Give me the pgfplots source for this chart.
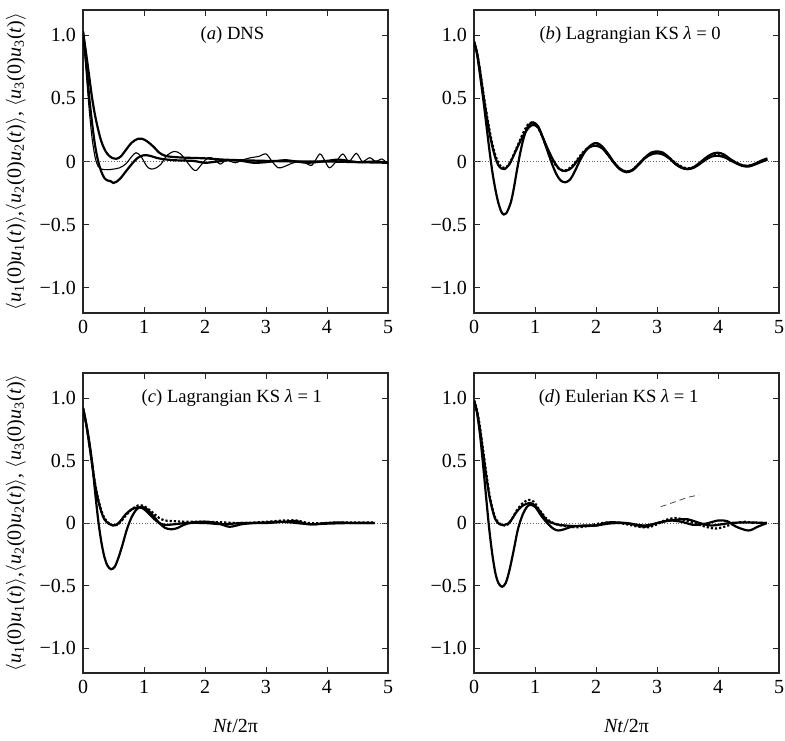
\documentclass[border=0pt]{standalone}
\usepackage{fontspec}
\setmainfont{Liberation Serif}
\usepackage{pgfplots}
\pgfplotsset{compat=1.18}
\pgfplotsset{
 panel/.style={
   scale only axis, width=152.5pt, height=151.5pt,
   xmin=0,xmax=5,ymin=-1.2,ymax=1.2,
   xtick={0,1,2,3,4,5}, xticklabels={0,1,2,3,4,5},
   ytick={-1,-0.5,0,0.5,1}, yticklabels={−1.0,−0.5,0,0.5,1.0},
   tick align=inside, major tick length=3pt,
   axis line style={line width=0.6pt,black!85},
   every tick/.style={black!85, line width=0.5pt},
   tick label style={font=\fontsize{10}{12}\selectfont},
   label style={font=\fontsize{10}{12}\selectfont},
   xlabel style={yshift=-6pt},
   anchor=south west,
 },
 cthick/.style={black, line width=1.1pt, smooth},
 cdot/.style={black, line width=1.1pt, smooth, densely dotted},
 cthin/.style={black, line width=0.55pt, smooth},
 zero/.style={black!60, densely dotted, line width=0.4pt},
}
\tikzset{plab/.style={font=\fontsize{9.3}{11}\selectfont}}
\newcommand{\ylab}{$\langle$\textit{u}\textsubscript{1}(0)\textit{u}\textsubscript{1}(\textit{t})$\rangle$,$\langle$\textit{u}\textsubscript{2}(0)\textit{u}\textsubscript{2}(\textit{t})$\rangle$, $\langle$\textit{u}\textsubscript{3}(0)\textit{u}\textsubscript{3}(\textit{t})$\rangle$}
\begin{document}
\begin{tikzpicture}
\path[use as bounding box] (0,0) rectangle (392.5pt,-370pt);
% (a)
\begin{axis}[panel, at={(41.5pt,-156.5pt)}, ylabel={\ylab}]
\addplot[zero] coordinates {(0,0) (5,0)};
\addplot[cthick] coordinates {(0,1.03) (0.05,0.86) (0.1,0.68) (0.15,0.5) (0.2,0.36) (0.25,0.25) (0.3,0.16) (0.35,0.1) (0.4,0.06) (0.47,0.03) (0.55,0.022) (0.62,0.04) (0.7,0.09) (0.8,0.15) (0.9,0.18) (0.97,0.18) (1.05,0.16) (1.15,0.12) (1.25,0.07) (1.35,0.045) (1.5,0.035) (1.7,0.03) (2.0,0.025) (2.3,0.015) (2.6,0.01) (3.0,0.005) (3.5,0.0) (4.0,0.0) (4.5,-0.005) (5,-0.01)};
\addplot[cthick] coordinates {(0,1.03) (0.05,0.8) (0.1,0.52) (0.15,0.3) (0.2,0.12) (0.25,0.0) (0.3,-0.08) (0.35,-0.13) (0.4,-0.15) (0.45,-0.155) (0.5,-0.17) (0.55,-0.16) (0.62,-0.13) (0.7,-0.08) (0.8,-0.02) (0.9,0.03) (1.0,0.05) (1.1,0.045) (1.2,0.03) (1.3,0.02) (1.5,0.01) (1.8,0.005) (2.0,-0.01) (2.2,0.0) (2.4,0.01) (2.6,0.005) (2.8,-0.01) (3.0,-0.005) (3.3,0.01) (3.5,0.0) (3.7,-0.01) (4.0,0.005) (4.2,0.015) (4.5,-0.005) (4.8,0.0) (5,-0.01)};
\addplot[cthin] coordinates {(0,1.0) (0.05,0.72) (0.1,0.42) (0.15,0.18) (0.2,0.03) (0.25,-0.04) (0.3,-0.06) (0.4,-0.065) (0.5,-0.06) (0.6,-0.05) (0.7,-0.02) (0.8,0.04) (0.87,0.07) (0.95,0.04) (1.05,-0.04) (1.12,-0.06) (1.2,-0.05) (1.28,-0.02) (1.38,0.05) (1.5,0.08) (1.6,0.06) (1.7,0.0) (1.8,-0.06) (1.86,-0.07) (1.95,-0.02) (2.05,0.03) (2.15,0.02) (2.25,-0.02) (2.35,0.01) (2.5,-0.01) (2.6,0.01) (2.75,0.03) (2.88,0.04) (3.0,0.06) (3.1,0.0) (3.2,-0.05) (3.3,-0.04) (3.45,-0.01) (3.6,0.0) (3.75,-0.03) (3.88,0.06) (3.96,0.01) (4.04,-0.05) (4.15,0.0) (4.26,0.06) (4.36,0.0) (4.48,0.065) (4.58,0.0) (4.7,0.03) (4.8,0.0) (4.9,0.02) (5,-0.02)};
\node[plab] at (axis cs:2.45,1.0) {(\textit{a}) DNS};
\end{axis}
% (b)
\begin{axis}[panel, at={(237pt,-156.5pt)}]
\addplot[zero] coordinates {(0,0) (5,0)};
\addplot[cthick] coordinates {(0,0.95) (0.05,0.85) (0.1,0.68) (0.15,0.5) (0.2,0.3) (0.25,0.1) (0.3,-0.08) (0.35,-0.22) (0.4,-0.33) (0.45,-0.4) (0.49,-0.42) (0.53,-0.41) (0.6,-0.33) (0.65,-0.22) (0.7,-0.08) (0.75,0.05) (0.8,0.16) (0.85,0.24) (0.9,0.29) (0.97,0.31) (1.05,0.28) (1.12,0.2) (1.2,0.09) (1.28,-0.02) (1.35,-0.1) (1.42,-0.15) (1.5,-0.165) (1.58,-0.14) (1.65,-0.08) (1.75,0.02) (1.85,0.1) (1.95,0.14) (2.02,0.145) (2.1,0.12) (2.2,0.06) (2.3,-0.01) (2.4,-0.06) (2.5,-0.08) (2.6,-0.065) (2.7,-0.02) (2.8,0.03) (2.9,0.07) (3.0,0.08) (3.1,0.07) (3.2,0.03) (3.3,-0.02) (3.4,-0.05) (3.5,-0.06) (3.6,-0.045) (3.7,-0.01) (3.8,0.03) (3.9,0.06) (4.0,0.07) (4.1,0.055) (4.2,0.02) (4.3,-0.01) (4.4,-0.03) (4.48,-0.035) (4.6,-0.02) (4.7,0.005) (4.81,0.025)};
\addplot[cdot] coordinates {(0,0.95) (0.05,0.86) (0.1,0.72) (0.15,0.55) (0.2,0.4) (0.25,0.26) (0.3,0.14) (0.35,0.05) (0.4,-0.01) (0.45,-0.045) (0.5,-0.05) (0.55,-0.035) (0.6,0.0) (0.7,0.11) (0.8,0.22) (0.88,0.29) (0.95,0.31) (1.02,0.29) (1.1,0.22) (1.2,0.1) (1.3,0.0) (1.4,-0.06) (1.5,-0.07) (1.6,-0.04) (1.7,0.02) (1.8,0.08) (1.9,0.12) (2.0,0.13) (2.1,0.11) (2.2,0.05) (2.3,-0.01) (2.4,-0.06) (2.5,-0.08) (2.6,-0.065) (2.7,-0.02) (2.8,0.03) (2.9,0.06) (3.0,0.07) (3.1,0.06) (3.2,0.03) (3.3,-0.01) (3.4,-0.04) (3.5,-0.055) (3.6,-0.045) (3.7,-0.015) (3.8,0.02) (3.9,0.045) (4.0,0.05) (4.1,0.04) (4.2,0.015) (4.3,-0.01) (4.4,-0.03) (4.5,-0.035) (4.6,-0.02) (4.7,0.0) (4.81,0.02)};
\addplot[cthick] coordinates {(0,0.95) (0.05,0.86) (0.1,0.71) (0.15,0.54) (0.2,0.38) (0.25,0.24) (0.3,0.12) (0.35,0.03) (0.4,-0.03) (0.45,-0.055) (0.5,-0.06) (0.55,-0.04) (0.6,-0.005) (0.7,0.1) (0.8,0.2) (0.9,0.27) (0.97,0.29) (1.05,0.27) (1.12,0.2) (1.2,0.11) (1.3,0.01) (1.4,-0.06) (1.5,-0.075) (1.6,-0.05) (1.7,0.01) (1.8,0.07) (1.9,0.115) (2.0,0.125) (2.1,0.105) (2.2,0.05) (2.3,-0.015) (2.4,-0.065) (2.5,-0.085) (2.6,-0.07) (2.7,-0.025) (2.8,0.025) (2.9,0.055) (3.0,0.065) (3.1,0.055) (3.2,0.025) (3.3,-0.015) (3.4,-0.045) (3.5,-0.06) (3.6,-0.05) (3.7,-0.02) (3.8,0.015) (3.9,0.04) (4.0,0.045) (4.1,0.035) (4.2,0.01) (4.3,-0.015) (4.4,-0.035) (4.5,-0.04) (4.6,-0.025) (4.7,-0.005) (4.81,0.015)};
\node[plab] at (axis cs:2.56,1.0) {(\textit{b}) Lagrangian KS \textit{λ} = 0};
\end{axis}
% (c)
\begin{axis}[panel, at={(41.5pt,-336.5pt)}, height=150pt, ylabel={\ylab}, xlabel={\textit{Nt}/2π}]
\addplot[zero] coordinates {(0,0) (5,0)};
\addplot[cthick] coordinates {(0,0.92) (0.05,0.8) (0.1,0.66) (0.15,0.48) (0.2,0.24) (0.25,0.02) (0.3,-0.15) (0.35,-0.27) (0.4,-0.34) (0.46,-0.37) (0.52,-0.35) (0.58,-0.28) (0.65,-0.17) (0.72,-0.05) (0.8,0.05) (0.88,0.11) (0.96,0.13) (1.05,0.11) (1.15,0.06) (1.25,0.0) (1.35,-0.04) (1.45,-0.05) (1.55,-0.04) (1.65,-0.015) (1.8,0.005) (2.0,0.01) (2.2,0.0) (2.4,-0.03) (2.6,-0.01) (2.8,0.0) (3.0,0.005) (3.2,0.01) (3.4,0.005) (3.6,-0.005) (3.8,-0.01) (4.0,0.0) (4.2,0.005) (4.4,0.0) (4.6,0.0) (4.78,0.0)};
\addplot[cdot] coordinates {(0,0.92) (0.05,0.8) (0.1,0.64) (0.15,0.47) (0.2,0.31) (0.25,0.19) (0.3,0.1) (0.35,0.04) (0.42,0.0) (0.5,-0.02) (0.56,-0.015) (0.62,0.01) (0.7,0.06) (0.8,0.11) (0.9,0.14) (0.97,0.14) (1.05,0.12) (1.15,0.08) (1.25,0.04) (1.35,0.02) (1.5,0.015) (1.7,0.01) (2.0,0.01) (2.3,0.005) (2.6,0.0) (3.0,0.01) (3.3,0.02) (3.5,0.02) (3.7,0.0) (4.0,0.0) (4.4,0.005) (4.78,0.005)};
\addplot[cthick] coordinates {(0,0.92) (0.05,0.8) (0.1,0.64) (0.15,0.47) (0.2,0.3) (0.25,0.18) (0.3,0.09) (0.35,0.03) (0.42,-0.005) (0.5,-0.02) (0.56,-0.01) (0.62,0.02) (0.7,0.07) (0.8,0.11) (0.9,0.125) (0.97,0.12) (1.05,0.09) (1.15,0.04) (1.25,0.0) (1.35,-0.015) (1.5,-0.01) (1.7,0.0) (2.0,0.0) (2.3,-0.01) (2.6,0.0) (3.0,0.0) (3.3,0.01) (3.5,0.015) (3.7,-0.01) (4.0,-0.005) (4.4,0.0) (4.78,0.0)};
\node[plab] at (axis cs:2.44,1.0) {(\textit{c}) Lagrangian KS \textit{λ} = 1};
\end{axis}
% (d)
\begin{axis}[panel, at={(237pt,-336.5pt)}, height=150pt, xlabel={\textit{Nt}/2π}]
\addplot[zero] coordinates {(0,0) (5,0)};
\addplot[cthick] coordinates {(0,0.98) (0.05,0.88) (0.1,0.7) (0.15,0.46) (0.2,0.2) (0.25,-0.05) (0.3,-0.25) (0.35,-0.4) (0.4,-0.48) (0.46,-0.51) (0.52,-0.48) (0.58,-0.38) (0.65,-0.22) (0.72,-0.05) (0.8,0.07) (0.87,0.13) (0.92,0.145) (1.0,0.13) (1.1,0.06) (1.2,0.0) (1.3,-0.045) (1.38,-0.06) (1.48,-0.05) (1.6,-0.03) (1.8,-0.02) (2.0,-0.02) (2.2,-0.005) (2.4,0.0) (2.6,-0.01) (2.8,-0.03) (3.0,0.0) (3.2,0.02) (3.4,0.01) (3.6,-0.015) (3.8,-0.005) (4.0,0.02) (4.15,0.015) (4.3,-0.03) (4.5,-0.06) (4.65,-0.03) (4.8,0.0)};
\addplot[cdot] coordinates {(0,0.98) (0.05,0.9) (0.1,0.76) (0.15,0.58) (0.2,0.4) (0.25,0.24) (0.3,0.12) (0.35,0.04) (0.42,-0.005) (0.5,-0.02) (0.56,-0.01) (0.62,0.03) (0.7,0.1) (0.8,0.16) (0.9,0.185) (0.98,0.17) (1.08,0.1) (1.2,0.03) (1.35,-0.01) (1.5,-0.025) (1.7,-0.035) (1.9,-0.02) (2.1,0.0) (2.3,0.005) (2.5,-0.01) (2.7,-0.03) (2.85,-0.035) (3.0,-0.01) (3.15,0.025) (3.3,0.04) (3.45,0.025) (3.6,0.0) (3.8,-0.03) (3.95,-0.045) (4.1,-0.03) (4.3,0.0) (4.45,0.01) (4.6,0.0) (4.8,0.0)};
\addplot[cthick] coordinates {(0,0.98) (0.05,0.89) (0.1,0.74) (0.15,0.56) (0.2,0.38) (0.25,0.22) (0.3,0.11) (0.35,0.03) (0.42,-0.01) (0.5,-0.015) (0.56,-0.005) (0.62,0.03) (0.7,0.09) (0.8,0.14) (0.92,0.16) (1.0,0.14) (1.1,0.08) (1.2,0.02) (1.35,-0.01) (1.5,-0.02) (1.7,-0.025) (2.0,-0.02) (2.2,0.005) (2.5,0.0) (2.8,-0.02) (3.1,0.01) (3.3,0.025) (3.5,0.03) (3.7,0.0) (3.9,-0.02) (4.2,0.0) (4.5,0.005) (4.8,0.0)};
\addplot[black!70, line width=0.4pt, densely dashed] coordinates {(3.06,0.13) (3.3,0.17) (3.5,0.205) (3.69,0.225)};
\node[plab] at (axis cs:2.37,1.0) {(\textit{d}) Eulerian KS \textit{λ} = 1};
\end{axis}
\end{tikzpicture}
\end{document}
